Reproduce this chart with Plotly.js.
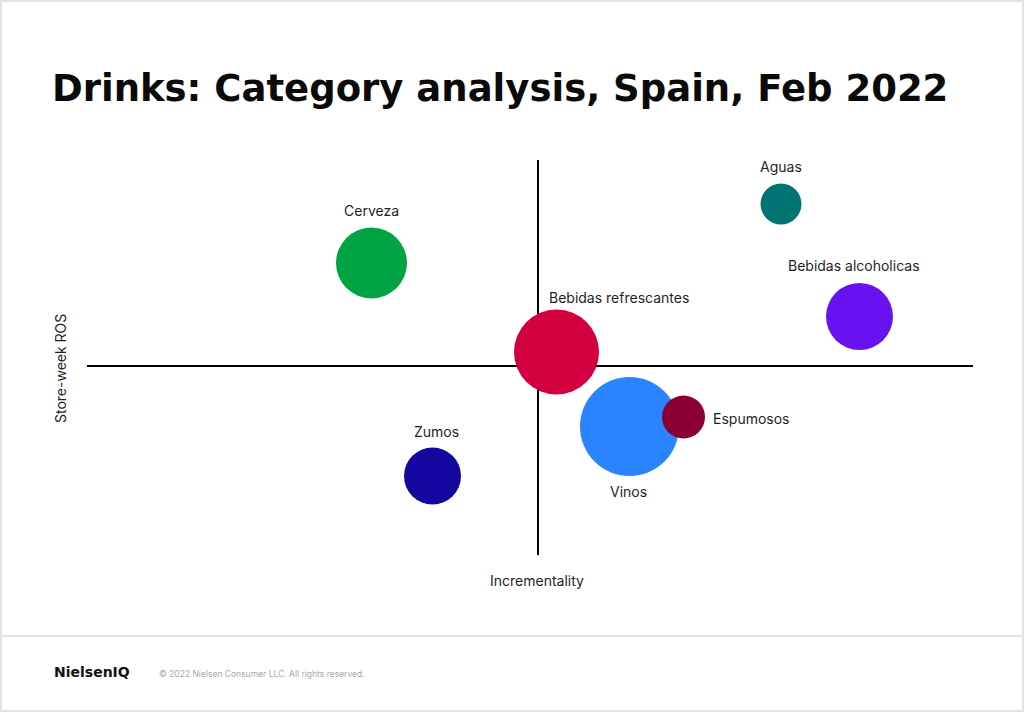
<!DOCTYPE html>
<html>
<head>
<meta charset="utf-8">
<script src="https://cdn.plot.ly/plotly-3.0.1.min.js"></script>
<style>
  html, body { margin: 0; padding: 0; background: #ffffff; }
  #chart { width: 1024px; height: 712px; }
</style>
</head>
<body>
<div id="chart"></div>
<script>
// ---- Data ----
const categories = ["Aguas", "Cerveza", "Bebidas refrescantes", "Bebidas alcoholicas", "Vinos", "Espumosos", "Zumos"];
const incrementality = [2.43, -1.665, 0.185, 3.215, 0.915, 1.455, -1.055];
const storeWeekROS = [1.62, 1.03, 0.14, 0.495, -0.605, -0.51, -1.10];
const bubbleSize = [41, 71, 85, 67, 99, 43, 57];
const colors = ["#007472", "#00A443", "#D2003F", "#6A11F2", "#2A84FF", "#8A0033", "#13079F"];
const xAxisTitle = "Incrementality";
const yAxisTitle = "Store-week ROS";

// label placement (pixel offsets from bubble centre)
const labelDx = [0, 0, -10, -6, -1, 27, 4];
const labelDy = [38, 53, 55, 51, -65, -1, 45];
const labelAnchor = ["center", "center", "left", "center", "center", "left", "center"];

// ---- Layout geometry (pixels) ----
const W = 1024, H = 712;
const L = 87, R = 973, T = 160, B = 555;
const pw = R - L, ph = B - T;
const px = p => (p - L) / pw;      // container px -> paper x
const py = p => (B - p) / ph;      // container px -> paper y

const trace = {
  type: "scatter",
  mode: "markers",
  x: incrementality,
  y: storeWeekROS,
  text: categories,
  hoverinfo: "text",
  marker: {
    size: bubbleSize,
    sizemode: "diameter",
    sizeref: 1,
    color: colors,
    opacity: 1,
    line: { width: 0 }
  }
};

const textFamily = "Inter, 'Noto Sans', sans-serif";
const headFamily = "'DejaVu Sans', Inter, sans-serif";
const labelFont = { family: textFamily, size: 14, color: "#1f1f1f" };

const annotations = categories.map((c, i) => ({
  xref: "x", yref: "y",
  x: incrementality[i], y: storeWeekROS[i],
  text: c,
  showarrow: false,
  xanchor: labelAnchor[i],
  yanchor: "middle",
  xshift: labelDx[i],
  yshift: labelDy[i],
  font: labelFont
}));

// axis titles
annotations.push({
  xref: "paper", yref: "paper",
  x: px(537), y: py(580),
  xanchor: "center", yanchor: "middle",
  text: xAxisTitle, showarrow: false, font: labelFont
});
annotations.push({
  xref: "paper", yref: "paper",
  x: px(60), y: py(369),
  xanchor: "center", yanchor: "middle",
  textangle: -90,
  text: yAxisTitle, showarrow: false, font: labelFont
});

// footer
annotations.push({
  xref: "paper", yref: "paper",
  x: px(52), y: py(672),
  xanchor: "left", yanchor: "middle",
  text: "<b>NielsenIQ</b>",
  showarrow: false,
  font: { family: headFamily, size: 14, color: "#111111" }
});
annotations.push({
  xref: "paper", yref: "paper",
  x: px(157), y: py(674),
  xanchor: "left", yanchor: "middle",
  text: "© 2022 Nielsen Consumer LLC. All rights reserved.",
  showarrow: false,
  font: { family: textFamily, size: 8.5, color: "#a8a8a8" }
});

const shapes = [
  { type: "rect", xref: "paper", yref: "paper",
    x0: px(1), x1: px(W - 1), y0: py(1), y1: py(H - 1),
    line: { color: "#e2e2e2", width: 2 }, fillcolor: "rgba(0,0,0,0)", layer: "below" },
  { type: "line", xref: "paper", yref: "paper",
    x0: px(0), x1: px(W), y0: py(636), y1: py(636),
    line: { color: "#e2e2e2", width: 2 }, layer: "below" }
];

const layout = {
  width: W, height: H,
  margin: { l: L, r: W - R, t: T, b: H - B, pad: 0 },
  paper_bgcolor: "#ffffff",
  plot_bgcolor: "#ffffff",
  showlegend: false,
  title: {
    text: "<b>Drinks: Category analysis, Spain, Feb 2022</b>",
    xref: "container", yref: "container",
    x: 52 / W, xanchor: "left",
    y: 1 - 88 / H, yanchor: "middle",
    font: { family: headFamily, size: 37, color: "#0a0a0a" }
  },
  xaxis: {
    range: [-4.51, 4.35],
    showgrid: false, showticklabels: false, ticks: "",
    showline: false,
    zeroline: true, zerolinecolor: "#000000", zerolinewidth: 1.5,
    fixedrange: true
  },
  yaxis: {
    range: [-1.89, 2.06],
    showgrid: false, showticklabels: false, ticks: "",
    showline: false,
    zeroline: true, zerolinecolor: "#000000", zerolinewidth: 1.5,
    fixedrange: true
  },
  annotations: annotations,
  shapes: shapes
};

Plotly.newPlot("chart", [trace], layout, { displayModeBar: false, staticPlot: true });
</script>
</body>
</html>
